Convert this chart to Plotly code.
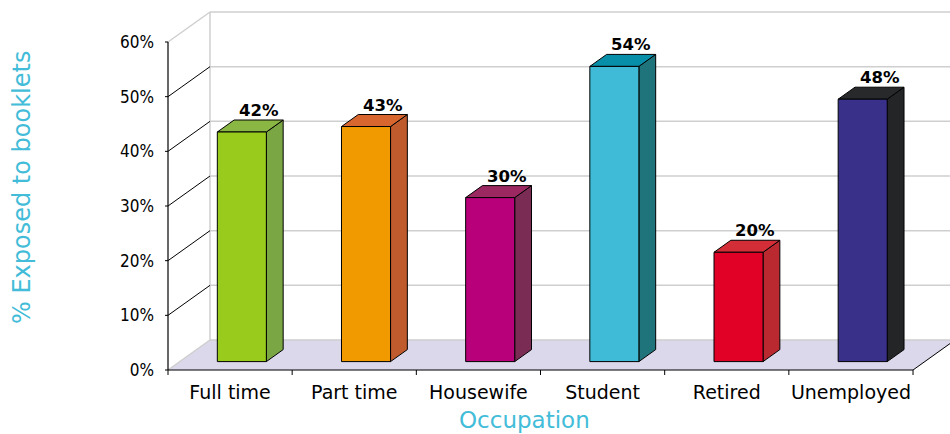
import plotly.graph_objects as go

# ---- data -------------------------------------------------------------
categories = ["Full time", "Part time", "Housewife", "Student", "Retired", "Unemployed"]
exposed_pct = [42, 43, 30, 54, 20, 48]
y_ticks = [0, 10, 20, 30, 40, 50, 60]
y_tick_text = ["0%", "10%", "20%", "30%", "40%", "50%", "60%"]

front_colors = ["#98cb1c", "#f09a00", "#b9007b", "#40bbd7", "#e10026", "#383089"]
side_colors = ["#7aa643", "#c05b2d", "#7b2c54", "#1f737b", "#b9292f", "#232527"]
top_colors = ["#8ab644", "#d8672f", "#9c2861", "#078ea8", "#d32e37", "#27292b"]

# ---- geometry of the pseudo-3D box ----------------------------------
WIDTH, HEIGHT = 950, 434
PX_PER_CAT = 124.17          # pixels per category slot
PX_PER_PCT = 5.4667          # pixels per percentage point
M_L, M_R, M_T, M_B = 165, 0, 0, 56
PAD_X_PX, PAD_Y_PX = 3, 8    # room left of / below the box edges for ticks

DEPTH_X = 42 / PX_PER_CAT    # back wall offset in category units
DEPTH_Y = 30 / PX_PER_PCT    # back wall offset in percentage points
BAR_HALF = 0.1975            # half bar width (category units)
BAR_Z0, BAR_Z1 = 0.28, 0.68  # bar front/back as a fraction of box depth
Y_TOP = 60
TICK_PX = 5

n = len(categories)
x_left = -0.5
x_right = n - 0.5
x0 = x_left - PAD_X_PX / PX_PER_CAT
x1 = x0 + (WIDTH - M_L - M_R) / PX_PER_CAT
y0 = -PAD_Y_PX / PX_PER_PCT
y1 = y0 + (HEIGHT - M_T - M_B) / PX_PER_PCT

GRID = "#cfcfcf"
FLOOR = "#dcd8eb"
TITLE_COLOR = "#42bcd8"

fig = go.Figure()


def polygon(xs, ys, fill, line_color="black", width=1):
    fig.add_trace(go.Scatter(
        x=list(xs) + [xs[0]], y=list(ys) + [ys[0]],
        mode="lines", fill="toself", fillcolor=fill,
        line=dict(color=line_color, width=width),
        hoverinfo="skip", showlegend=False))


def segment(xs, ys, color, width=1):
    fig.add_trace(go.Scatter(
        x=xs, y=ys, mode="lines", line=dict(color=color, width=width),
        hoverinfo="skip", showlegend=False))


# floor
polygon([x_left, x_right, x_right + DEPTH_X, x_left + DEPTH_X],
        [0, 0, DEPTH_Y, DEPTH_Y], FLOOR, line_color=FLOOR, width=0.5)

# back wall gridlines and left wall edge
for v in y_ticks:
    segment([x_left + DEPTH_X, x_right + DEPTH_X], [v + DEPTH_Y, v + DEPTH_Y], GRID, 1.5)
segment([x_left + DEPTH_X, x_left + DEPTH_X], [DEPTH_Y, Y_TOP + DEPTH_Y], GRID, 1.5)

# side wall diagonals
for v in y_ticks:
    col = GRID if v in (0, Y_TOP) else "black"
    w = 1.5 if v in (0, Y_TOP) else 1
    segment([x_left, x_left + DEPTH_X], [v, v + DEPTH_Y], col, w)

# floor right edge, front edge, front value axis
segment([x_right, x_right + DEPTH_X], [0, DEPTH_Y], "black", 1)
segment([x_left, x_right], [0, 0], "black", 1.2)
segment([x_left, x_left], [0, Y_TOP], "black", 1.2)

# tick marks
tick_dx = TICK_PX / PX_PER_CAT
tick_dy = TICK_PX / PX_PER_PCT
for v in y_ticks:
    segment([x_left - tick_dx, x_left], [v, v], "black", 1)
for k in range(n + 1):
    xb = x_left + k
    segment([xb, xb], [0, -tick_dy], "black", 1)

# bars
bx = (BAR_Z1 - BAR_Z0) * DEPTH_X
by = (BAR_Z1 - BAR_Z0) * DEPTH_Y
for i, v in enumerate(exposed_pct):
    xl = i - BAR_HALF + BAR_Z0 * DEPTH_X
    xr = i + BAR_HALF + BAR_Z0 * DEPTH_X
    yb = BAR_Z0 * DEPTH_Y
    yt = v + BAR_Z0 * DEPTH_Y
    polygon([xr, xr + bx, xr + bx, xr], [yb, yb + by, yt + by, yt], side_colors[i])
    polygon([xl, xr, xr + bx, xl + bx], [yt, yt, yt + by, yt + by], top_colors[i])
    polygon([xl, xr, xr, xl], [yb, yb, yt, yt], front_colors[i])
    fig.add_annotation(
        x=i + BAR_Z1 * DEPTH_X, y=v + BAR_Z1 * DEPTH_Y,
        text=f"{v}%", showarrow=False, yanchor="bottom", yshift=-2,
        font=dict(family="DejaVu Sans", size=16.5, color="black", weight="bold"))

# axis titles
fig.add_annotation(
    xref="paper", yref="paper", x=(524 - M_L) / (WIDTH - M_L - M_R),
    y=(HEIGHT - M_B - 420) / (HEIGHT - M_T - M_B),
    text="Occupation", showarrow=False, xanchor="center", yanchor="middle",
    font=dict(family="DejaVu Sans", size=23, color=TITLE_COLOR))
fig.add_annotation(
    xref="paper", yref="paper", x=(22 - M_L) / (WIDTH - M_L - M_R),
    y=(HEIGHT - M_B - 188) / (HEIGHT - M_T - M_B),
    text="% Exposed to booklets", textangle=-90, showarrow=False,
    xanchor="center", yanchor="middle",
    font=dict(family="DejaVu Sans", size=24, color=TITLE_COLOR))

fig.update_layout(
    width=WIDTH, height=HEIGHT,
    margin=dict(l=M_L, r=M_R, t=M_T, b=M_B, pad=0),
    paper_bgcolor="white", plot_bgcolor="white",
    showlegend=False,
    xaxis=dict(range=[x0, x1], tickmode="array", tickvals=list(range(n)),
               ticktext=categories, ticks="", showgrid=False, zeroline=False,
               showline=False, ticklabelstandoff=1,
               tickfont=dict(family="DejaVu Sans", size=19, color="black")),
    yaxis=dict(range=[y0, y1], tickmode="array", tickvals=y_ticks,
               ticktext=y_tick_text, ticks="", showgrid=False, zeroline=False,
               showline=False, ticklabelstandoff=10,
               tickfont=dict(family="DejaVu Sans Condensed, DejaVu Sans", size=17, color="black")),
)

fig.write_html("out.html")
